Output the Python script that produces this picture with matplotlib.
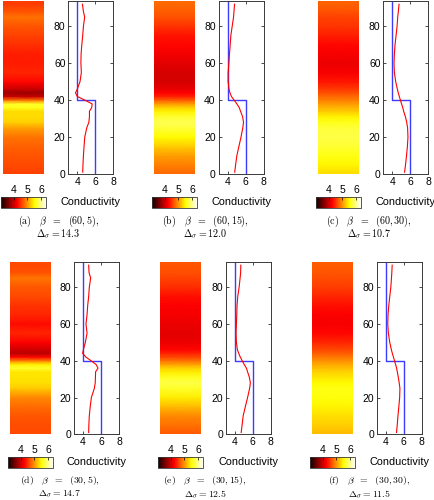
import numpy as np
import matplotlib
matplotlib.use('Agg')
import matplotlib.pyplot as plt
from matplotlib.colors import Normalize
from matplotlib.cm import ScalarMappable

plt.rcParams['font.family'] = ['Liberation Sans', 'DejaVu Sans']
plt.rcParams['mathtext.fontset'] = 'cm'

# ---------------- data ----------------
depth = [1, 5, 10, 15, 20, 25, 28, 31, 34, 36, 38, 40, 42, 44, 46,
         50, 55, 60, 65, 70, 75, 80, 85, 88, 92]

cond_a = [4.60, 4.63, 4.68, 4.75, 4.83, 5.05, 5.28, 5.35, 5.35, 5.60, 5.65, 4.85, 4.00, 3.80, 4.00,
          4.30, 4.45, 4.40, 4.42, 4.50, 4.60, 4.68, 4.82, 4.68, 4.57]
cond_b = [4.80, 4.90, 5.04, 5.27, 5.50, 5.70, 5.78, 5.68, 5.45, 5.30, 5.04, 4.74, 4.44, 4.27, 4.17,
          4.07, 4.07, 4.15, 4.22, 4.30, 4.37, 4.52, 4.67, 4.72, 4.78]
cond_c = [5.36, 5.47, 5.58, 5.68, 5.74, 5.70, 5.60, 5.46, 5.26, 5.16, 5.03, 4.90, 4.78, 4.66, 4.56,
          4.38, 4.23, 4.19, 4.23, 4.30, 4.42, 4.53, 4.60, 4.67, 4.75]
cond_d = [4.63, 4.65, 4.70, 4.80, 4.93, 5.26, 5.36, 5.38, 5.40, 5.67, 5.45, 4.90, 4.33, 3.96, 4.04,
          4.26, 4.45, 4.33, 4.45, 4.52, 4.63, 4.70, 4.85, 4.67, 4.63]
cond_e = [4.72, 4.82, 4.94, 5.18, 5.43, 5.66, 5.74, 5.63, 5.43, 5.30, 5.06, 4.83, 4.62, 4.45, 4.30,
          4.19, 4.15, 4.19, 4.23, 4.26, 4.34, 4.49, 4.60, 4.66, 4.68]
cond_f = [5.20, 5.28, 5.36, 5.46, 5.55, 5.58, 5.50, 5.40, 5.29, 5.21, 5.10, 4.98, 4.86, 4.74, 4.63,
          4.45, 4.30, 4.23, 4.26, 4.34, 4.45, 4.57, 4.64, 4.68, 4.72]

true_depth = [0, 40, 40, 94]
true_cond = [6, 6, 4, 4]

panel_labels = ['a', 'b', 'c', 'd', 'e', 'f']
beta_labels = ['(60,5)', '(60,15)', '(60,30)', '(30,5)', '(30,15)', '(30,30)']
delta_labels = ['14.3', '12.0', '10.7', '14.7', '12.5', '11.5']
profiles = [cond_a, cond_b, cond_c, cond_d, cond_e, cond_f]

x_ticks = [4, 6, 8]
y_ticks = [0, 20, 40, 60, 80]
cbar_ticks = [4, 5, 6]

# ---------------- layout (pixels) ----------------
W, H = 435, 500
clim = (3.08, 6.35)
ylim = (0, 94)
xlim = (3, 8)

strip_x = [3, 154, 318, 10, 160, 312]
box_x = [68.3, 218.5, 383.3, 74, 225.7, 376.7]
row_top = [0.5, 261.5]
row_h = [173.5, 172.8]
cbar_top = [197.3, 457.3]
cap_y1 = [221.5, 481.0]
cap_y2 = [234.0, 494.0]
cap_x = [58.5, 205, 369, 60, 205, 369]

strip_w = 41
box_w = 45
cbar_w = 45.5
cbar_h = 10.7


def rect(x, y_top, w, h):
    return [x / W, (H - y_top - h) / H, w / W, h / H]


fig = plt.figure(figsize=(W / 100, H / 100), dpi=100)
cmap = plt.get_cmap('hot')
norm = Normalize(*clim)
edge = '#3a3a3a'

for i in range(6):
    r = i // 3
    prof = np.asarray(profiles[i])
    dep = np.asarray(depth, dtype=float)

    # --- image strip ---
    axs = fig.add_axes(rect(strip_x[i], row_top[r], strip_w, row_h[r]))
    ys = np.r_[ylim[0], dep, ylim[1]]
    cs = np.r_[prof[0], prof, prof[-1]]
    X = np.tile([0.0, 1.0], (len(ys), 1))
    Y = np.column_stack([ys, ys])
    C = np.column_stack([cs, cs])
    axs.pcolormesh(X, Y, C, shading='gouraud', cmap=cmap, norm=norm)
    axs.set_xlim(0, 1)
    axs.set_ylim(*ylim)
    axs.axis('off')

    # --- colorbar ---
    cax = fig.add_axes(rect(strip_x[i] - 2.3, cbar_top[r], cbar_w, cbar_h))
    cb = fig.colorbar(ScalarMappable(norm=norm, cmap=cmap), cax=cax,
                      orientation='horizontal', ticks=cbar_ticks)
    cax.xaxis.set_ticks_position('top')
    cax.xaxis.set_label_position('top')
    cax.tick_params(direction='in', length=2, width=0.5, pad=1.5,
                    labelsize=7.5, colors='black')
    cb.outline.set_linewidth(0.6)
    cb.outline.set_edgecolor(edge)

    # --- profile plot ---
    ax = fig.add_axes(rect(box_x[i], row_top[r], box_w, row_h[r]))
    ax.plot(true_cond, true_depth, color='#3c3cff', lw=1.0)
    ax.plot(prof, dep, color='#ff0000', lw=0.8)
    ax.set_xlim(*xlim)
    ax.set_ylim(*ylim)
    ax.set_xticks(x_ticks)
    ax.set_yticks(y_ticks)
    ax.tick_params(direction='in', length=2.5, width=0.5, top=True, right=True,
                   labelsize=7.5, pad=2)
    for s in ax.spines.values():
        s.set_linewidth(0.7)
        s.set_edgecolor(edge)
    ax.set_xlabel('Conductivity', fontsize=7.8)
    ax.xaxis.set_label_coords(0.5, -28.0 / row_h[r])
    ax.xaxis.label.set_va('center')

    # --- caption ---
    fs = 7.2 if r == 0 else 7.0
    fig.text(cap_x[i] / W, 1 - cap_y1[r] / H,
             r'$\mathrm{(%s)}\ \ \ \beta\ \ =\ \ %s,$' % (panel_labels[i], beta_labels[i]),
             ha='center', va='center', fontsize=fs)
    fig.text(cap_x[i] / W, 1 - cap_y2[r] / H,
             r'$\Delta_\sigma = %s$' % delta_labels[i],
             ha='center', va='center', fontsize=fs)

fig.savefig('out.png', dpi=100)
